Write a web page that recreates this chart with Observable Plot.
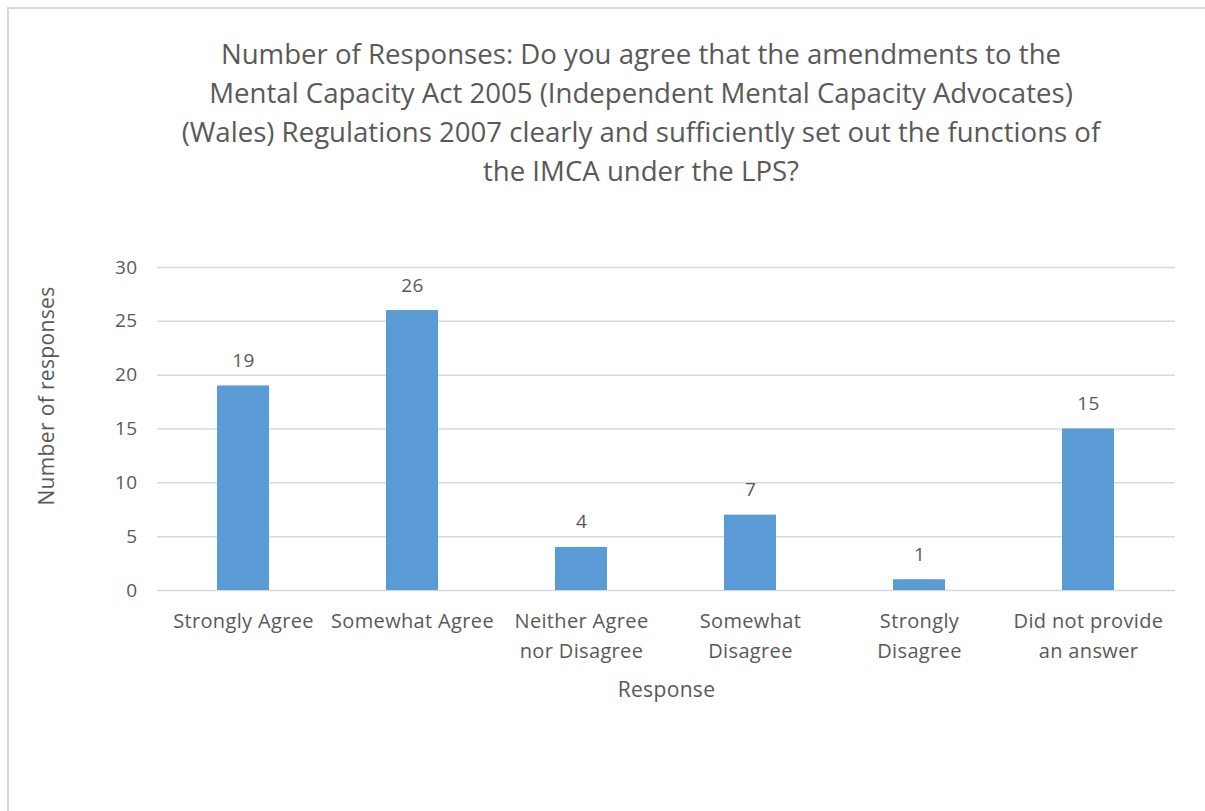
<!DOCTYPE html>
<html>
<head>
<meta charset="utf-8">
<script src="https://cdn.jsdelivr.net/npm/d3@7"></script>
<script src="https://cdn.jsdelivr.net/npm/@observablehq/plot@0.6"></script>
<style>
  html, body { margin: 0; padding: 0; background: #fff; }
  body { width: 1205px; height: 811px; position: relative; overflow: hidden; font-family: "Open Sans", sans-serif; }
  #frame { position: absolute; left: 7px; top: 7px; width: 1200px; height: 810px; border-top: 2px solid #d9d9d9; border-left: 2px solid #d9d9d9; }
  #title { position: absolute; left: 141px; width: 1000px; top: 34px; text-align: center; color: #595959; font-size: 27.6px; line-height: 39px; white-space: nowrap; }
  #chart { position: absolute; left: 0; top: 230px; }
  #chart svg text { letter-spacing: 0.35px; }
</style>
</head>
<body>
<div id="frame"></div>
<div id="title"></div>
<div id="chart"></div>
<script>
const titleLines = [
  "Number of Responses: Do you agree that the amendments to the",
  "Mental Capacity Act 2005 (Independent Mental Capacity Advocates)",
  "(Wales) Regulations 2007 clearly and sufficiently set out the functions of",
  "the IMCA under the LPS?"
];
const categories = ["Strongly Agree", "Somewhat Agree", "Neither Agree nor Disagree", "Somewhat Disagree", "Strongly Disagree", "Did not provide an answer"];
const tickLabels = ["Strongly Agree", "Somewhat Agree", "Neither Agree\nnor Disagree", "Somewhat\nDisagree", "Strongly\nDisagree", "Did not provide\nan answer"];
const values = [19, 26, 4, 7, 1, 15];
const yTicks = [0, 5, 10, 15, 20, 25, 30];
const xTitle = "Response";
const yTitle = "Number of responses";

const titleEl = document.getElementById("title");
titleLines.forEach(t => { const d = document.createElement("div"); d.textContent = t; titleEl.appendChild(d); });

const data = categories.map((c, i) => ({category: c, label: tickLabels[i], value: values[i]}));
const textColor = "#595959";

const chart = Plot.plot({
  width: 1205,
  height: 500,
  marginLeft: 157,
  marginRight: 30,
  marginTop: 37,
  marginBottom: 140,
  style: {fontFamily: "'Open Sans', sans-serif", fontSize: "19px", color: textColor, background: "transparent", overflow: "visible"},
  x: {domain: categories, paddingInner: 0.69, paddingOuter: 0.345, axis: null},
  y: {domain: [0, 30], ticks: yTicks, axis: null},
  marks: [
    Plot.gridY(yTicks, {stroke: "#d9d9d9", strokeOpacity: 1, strokeWidth: 1.5}),
    Plot.axisY(yTicks, {tickSize: 0, tickPadding: 20, fontSize: 19, fill: textColor, label: null}),
    Plot.barY(data, {x: "category", y: "value", fill: "#5b9bd5"}),
    Plot.text(data, {x: "category", y: "value", text: d => String(d.value), lineAnchor: "bottom", dy: -19, fontSize: 19, fill: textColor}),
    Plot.text(data, {x: "category", y: () => 0, text: "label", lineAnchor: "top", dy: 16, lineHeight: 1.5, fontSize: 20, fill: textColor}),
    Plot.text([xTitle], {frameAnchor: "bottom", dy: 100, lineAnchor: "middle", fontSize: 21, fill: textColor}),
    Plot.text([yTitle], {frameAnchor: "left", textAnchor: "middle", dx: -110, dy: -33, rotate: -90, fontSize: 21, fill: textColor})
  ]
});
document.getElementById("chart").appendChild(chart);
</script>
</body>
</html>
